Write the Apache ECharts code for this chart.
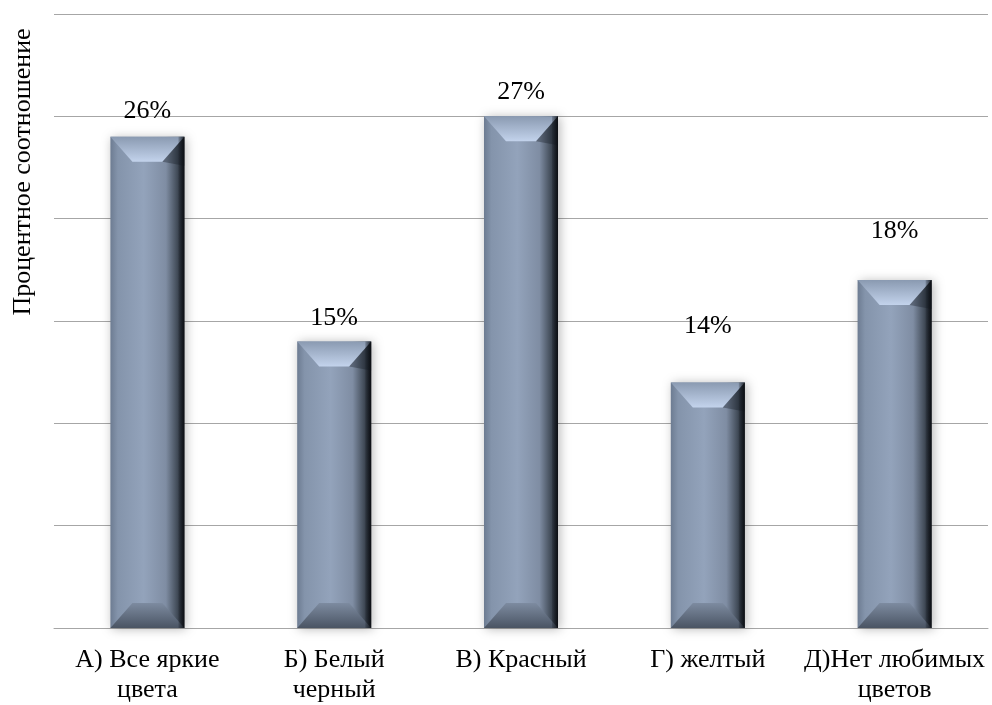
<!DOCTYPE html>
<html><head><meta charset="utf-8">
<script src="https://cdn.jsdelivr.net/npm/echarts@6/dist/echarts.min.js"></script>
<style>html,body{margin:0;padding:0;background:#fff}#c{width:992px;height:705px}
#pre{position:absolute;left:-9999px;top:0;font-family:'Liberation Serif';font-size:26px}</style>
</head><body><div id="pre">Процентное 26% Abc</div><div id="c"></div>
<script>
const categories = ['А) Все яркие\nцвета', 'Б) Белый\nчерный', 'В) Красный', 'Г) желтый', 'Д)Нет любимых\nцветов'];
const values = [24, 14, 25, 12, 17];
const valueLabels = ['26%', '15%', '27%', '14%', '18%'];
const yTitle = 'Процентное соотношение';
const labelGap = [26, 23, 24, 56, 49];

const FONT = 'Liberation Serif';

function renderItem(params, api) {
  const i = api.value(0);
  const top = api.coord([i, api.value(1)]);
  const base = api.coord([i, 0]);
  const w = 74;
  const x0 = top[0] - w / 2, x1 = top[0] + w / 2;
  const y0 = top[1], y1 = base[1];
  const bv = 25, inset = 22;
  return {
    type: 'group',
    children: [
      { type: 'rect', shape: { x: x0, y: y0, width: w, height: y1 - y0 },
        style: { fill: new echarts.graphic.LinearGradient(0, 0, 1, 0, [
          { offset: 0, color: '#6d7c92' }, { offset: 0.1, color: '#8494ab' },
          { offset: 0.45, color: '#93a3bb' }, { offset: 0.75, color: '#7f8da3' },
          { offset: 0.9, color: '#434d5a' }, { offset: 1, color: '#1b2028' }]),
          shadowBlur: 10, shadowColor: 'rgba(0,0,0,0.28)', shadowOffsetX: 2, shadowOffsetY: 1 } },
      { type: 'polygon', shape: { points: [[x0, y0], [x1, y0], [x1 - inset, y0 + bv], [x0 + inset, y0 + bv]] },
        style: { fill: new echarts.graphic.LinearGradient(0, 0, 0, 1, [
          { offset: 0, color: '#8a9ab1' }, { offset: 1, color: '#c3d3ec' }]) } },
      { type: 'polygon', shape: { points: [[x1, y0], [x1, y0 + bv + 4], [x1 - inset, y0 + bv]] },
        style: { fill: 'rgba(20,25,35,0.35)' } },
      { type: 'polygon', shape: { points: [[x0 + inset, y1 - bv], [x1 - inset, y1 - bv], [x1, y1], [x0, y1]] },
        style: { fill: new echarts.graphic.LinearGradient(0, 0, 0, 1, [
          { offset: 0, color: '#7d8ba0' }, { offset: 1, color: '#4a5463' }]) } },
      { type: 'rect', shape: { x: x1 - 6, y: y0, width: 6, height: y1 - y0 },
        style: { fill: new echarts.graphic.LinearGradient(0, 0, 1, 0, [
          { offset: 0, color: 'rgba(20,25,32,0.2)' }, { offset: 1, color: 'rgba(10,12,16,0.85)' }]) } },
      { type: 'text', style: { text: valueLabels[i], x: top[0], y: y0 - labelGap[i],
        fontFamily: FONT, fontSize: 26, fill: '#000', align: 'center', verticalAlign: 'middle' } }
    ]
  };
}

function draw() {
  const chart = echarts.init(document.getElementById('c'));
  chart.setOption({
    animation: false,
    textStyle: { fontFamily: FONT },
    grid: { left: 54, right: 4, top: 14, bottom: 75 },
    xAxis: {
      type: 'category', data: categories,
      axisLine: { show: true, lineStyle: { color: '#a6a6a6', width: 1 } },
      axisTick: { show: false },
      axisLabel: { interval: 0, color: '#000', fontFamily: FONT, fontSize: 26, lineHeight: 30, margin: 17, verticalAlign: 'top' }
    },
    yAxis: {
      type: 'value', min: 0, max: 30, interval: 5,
      axisLine: { show: false }, axisTick: { show: false }, axisLabel: { show: false },
      splitLine: { lineStyle: { color: '#a6a6a6', width: 1 } }
    },
    graphic: [{ type: 'text', rotation: Math.PI / 2, x: 23, y: 172,
      style: { text: yTitle, fontFamily: FONT, fontSize: 26, fill: '#000', align: 'center', verticalAlign: 'middle' } }],
    series: [{ type: 'custom', renderItem: renderItem,
      data: values.map((v, i) => [i, v]), encode: { x: 0, y: 1 }, clip: false }]
  });
}
draw();
</script></body></html>
